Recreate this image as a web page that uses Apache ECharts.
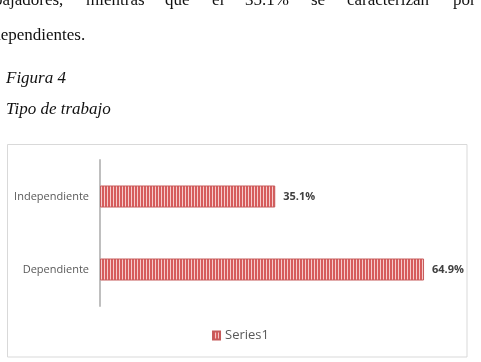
<!DOCTYPE html>
<html>
<head>
<meta charset="utf-8">
<script src="https://cdn.jsdelivr.net/npm/echarts@6/dist/echarts.min.js"></script>
<style>
html,body{margin:0;padding:0;background:#fff;}
#c{width:481px;height:362px;}
</style>
</head>
<body>
<div id="c"></div>
<script>
const categories = ['Dependiente', 'Independiente'];
const seriesName = 'Series1';
const values = [64.9, 35.1];

const pc = document.createElement('canvas');
pc.width = 3; pc.height = 8;
const g = pc.getContext('2d');
g.fillStyle = '#d65c5c'; g.fillRect(0, 0, 2, 8);
g.fillStyle = '#f6cccc'; g.fillRect(2, 0, 1, 8);

const serif = "'Liberation Serif', 'Times New Roman', serif";
const sans = "'Open Sans', 'Liberation Sans', sans-serif";
const bodyFont = '17px ' + serif;

const chart = echarts.init(document.getElementById('c'), null, {renderer: 'canvas'});
chart.setOption({
  animation: false,
  backgroundColor: '#fff',
  graphic: [
    {type: 'rect', shape: {x: 7.5, y: 144.5, width: 459.5, height: 212.5}, style: {fill: '#fff', stroke: '#d9d9d9', lineWidth: 1}, z: -10},
    {type: 'text', left: -24, top: -8, style: {text: 'trabajadores,', font: bodyFont, fill: '#111'}},
    {type: 'text', left: 86, top: -8, style: {text: 'mientras', font: bodyFont, fill: '#111'}},
    {type: 'text', left: 165, top: -8, style: {text: 'que', font: bodyFont, fill: '#111'}},
    {type: 'text', left: 212, top: -8, style: {text: 'el', font: bodyFont, fill: '#111'}},
    {type: 'text', left: 245, top: -8, style: {text: '35.1%', font: bodyFont, fill: '#111'}},
    {type: 'text', left: 311, top: -8, style: {text: 'se', font: bodyFont, fill: '#111'}},
    {type: 'text', left: 347, top: -8, style: {text: 'caracterizan', font: bodyFont, fill: '#111'}},
    {type: 'text', left: 453, top: -8, style: {text: 'por', font: bodyFont, fill: '#111'}},
    {type: 'text', left: -21, top: 27, style: {text: 'independientes.', font: bodyFont, fill: '#111'}},
    {type: 'text', left: 6, top: 70, style: {text: 'Figura 4', font: 'italic 17px ' + serif, fill: '#111'}},
    {type: 'text', left: 6, top: 101, style: {text: 'Tipo de trabajo', font: 'italic 17px ' + serif, fill: '#111'}}
  ],
  grid: {left: 100, top: 160, width: 349.5, height: 146, containLabel: false},
  xAxis: {type: 'value', min: 0, max: 70, show: false},
  yAxis: {
    type: 'category',
    data: categories,
    axisLine: {lineStyle: {color: '#bfbfbf', width: 2}},
    axisTick: {show: false},
    axisLabel: {color: '#595959', fontSize: 11, fontFamily: sans, margin: 11}
  },
  legend: {
    bottom: 15, left: 'center',
    icon: 'rect', itemWidth: 7, itemHeight: 8, itemGap: 5,
    textStyle: {color: '#595959', fontSize: 13, fontFamily: sans},
    data: [seriesName]
  },
  series: [{
    name: seriesName,
    type: 'bar',
    data: values,
    barWidth: 22,
    itemStyle: {color: {image: pc, repeat: 'repeat'}, borderColor: '#c65a5a', borderWidth: 1},
    label: {show: true, position: 'right', distance: 8, formatter: '{c}%', color: '#404040', fontWeight: 'bold', fontSize: 11, fontFamily: sans}
  }]
});
</script>
</body>
</html>
